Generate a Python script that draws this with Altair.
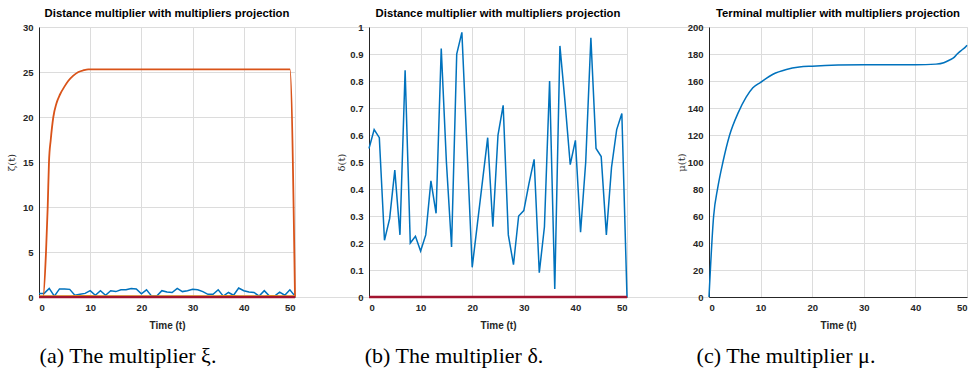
import altair as alt
import pandas as pd

# ---------------- data ----------------
t_int = list(range(51))

xi_blue = [0.4, 0.4, 0.95, 0.1, 0.9, 0.9, 0.85, 0.2, 0.3, 0.4,
           0.7, 0.2, 0.7, 0.2, 0.7, 0.6, 0.8, 0.8, 0.95, 0.9,
           0.35, 0.8, 0.1, 0.1, 0.7, 0.55, 0.5, 0.95, 0.6, 0.7,
           0.85, 0.8, 0.6, 0.3, 0.3, 0.8, 0.1, 0.5, 0.2, 1.0,
           0.7, 0.55, 0.5, 0.1, 0.7, 0.1, 0.1, 0.55, 0.2, 0.8, 0.1]
xi_yellow = [0.12, 0.12, 0.1, 0.1, 0.12, 0.12, 0.12, 0.15, 0.15, 0.15,
             0.15, 0.12, 0.1, 0.1, 0.1, 0.1, 0.1, 0.1, 0.1, 0.1,
             0.1, 0.1, 0.12, 0.12, 0.1, 0.1, 0.1, 0.1, 0.1, 0.1,
             0.1, 0.1, 0.1, 0.12, 0.12, 0.1, 0.15, 0.15, 0.15, 0.1,
             0.1, 0.1, 0.1, 0.12, 0.1, 0.15, 0.15, 0.12, 0.12, 0.1, 0.1]
zero_line = [0.0] * 51

xi_orange_t = [0, 0.8, 1.37, 1.7, 1.95, 2.3, 2.8, 3.4, 4.1, 5.0, 5.7, 6.7, 7.7, 8.7, 9.6, 20, 30, 40, 49, 50]
xi_orange_v = [0, 0, 5, 10, 15, 17.5, 20, 21.5, 22.5, 23.4, 24, 24.6, 25.0, 25.2, 25.3, 25.3, 25.3, 25.3, 25.3, 0]

delta_blue = [0.55, 0.62, 0.59, 0.21, 0.29, 0.47, 0.23, 0.84, 0.20, 0.225,
              0.17, 0.23, 0.43, 0.31, 0.92, 0.50, 0.185, 0.90, 0.98, 0.55,
              0.11, 0.27, 0.43, 0.59, 0.26, 0.60, 0.71, 0.23, 0.12, 0.30,
              0.32, 0.42, 0.51, 0.09, 0.26, 0.80, 0.03, 0.93, 0.72, 0.49,
              0.58, 0.24, 0.50, 0.96, 0.55, 0.52, 0.23, 0.48, 0.62, 0.68, 0.0]

mu_t = [0, 0.9, 1.7, 2.7, 4.0, 5.6, 7.2, 8.5, 10, 12.4, 15, 17.5, 20, 25, 30, 35, 40, 44, 45.5, 46.6, 47.5, 48.1, 49, 49.8, 50]
mu_v = [0, 60, 81, 100, 120, 136, 148, 155, 159, 165, 168.5, 170.3, 171, 171.8, 172, 172, 172, 172.5, 173.5, 175.5, 177.5, 180, 183, 185.5, 186.5]

titles = ["Distance multiplier with multipliers projection",
          "Distance multiplier with multipliers projection",
          "Terminal multiplier with multipliers projection"]
ylabels = ["ζ(t)", "δ(t)", "μ(t)"]
captions = ["(a) The multiplier ξ.", "(b) The multiplier δ.", "(c) The multiplier μ."]
x_ticks = [0, 10, 20, 30, 40, 50]

BLUE = "#0072BD"
ORANGE = "#D95319"
YELLOW = "#EDB120"
RED = "#A2142F"

FONT = "Liberation Sans"
H = 270


def xaxis():
    return alt.Axis(values=x_ticks, grid=True, gridColor="#dcdcdc", gridWidth=1,
                    domainColor="#262626", domainWidth=1, ticks=False,
                    labelFont=FONT, labelFontSize=9.5, labelFontWeight="bold",
                    labelColor="#262626", labelPadding=5,
                    title="Time (t)", titleFont=FONT, titleFontSize=10,
                    titleFontWeight="bold", titleColor="#262626",
                    titleY=28, titleBaseline="middle")


def yaxis(title, values, fmt):
    return alt.Axis(values=values, grid=True, gridColor="#dcdcdc", gridWidth=1,
                    domainColor="#262626", domainWidth=1, ticks=False, format=fmt,
                    labelFont=FONT, labelFontSize=9.5, labelFontWeight="bold",
                    labelColor="#262626", labelPadding=6,
                    title=title, titleFont="DejaVu Serif", titleFontSize=10,
                    titleFontWeight="normal", titleColor="#262626",
                    titleX=-28, titleY=H / 2, titleAngle=270,
                    titleAlign="center", titleBaseline="middle")


def panel(layers_data, title, ylabel, yvals, ydom, fmt, width, rng, tdx, caption, cap_x):
    xs = alt.Scale(domain=[0, 50], range=[0, rng], nice=False, zero=False)
    ys = alt.Scale(domain=ydom, nice=False, zero=False)
    layers = []
    for tv, vv, color, sw, interp in layers_data:
        df = pd.DataFrame({"t": tv, "v": vv})
        enc_x = alt.X("t:Q", scale=xs, axis=xaxis())
        enc_y = alt.Y("v:Q", scale=ys, axis=yaxis(ylabel, yvals, fmt))
        layers.append(alt.Chart(df).mark_line(color=color, strokeWidth=sw,
                                              interpolate=interp, clip=False)
                      .encode(x=enc_x, y=enc_y))
    cap = alt.Chart(pd.DataFrame({"c": [caption]})).mark_text(
        font="Liberation Serif", fontSize=22, color="black",
        align="center", baseline="middle").encode(
        text="c:N", x=alt.value(cap_x), y=alt.value(H + 59))
    layers.append(cap)
    return alt.layer(*layers).properties(
        width=width, height=H,
        title=alt.TitleParams(text=title, font=FONT, fontSize=11.3, fontWeight="bold",
                              color="black", anchor="middle", frame="group",
                              dx=tdx, offset=3))


p1 = panel([
    (t_int, xi_blue, BLUE, 1.5, "linear"),
    (xi_orange_t, xi_orange_v, ORANGE, 1.8, "monotone"),
    (t_int, xi_yellow, YELLOW, 1.5, "linear"),
    (t_int, zero_line, RED, 2.5, "linear"),
], titles[0], ylabels[0], list(range(0, 31, 5)), [0, 30], "d", 330, 256, -37, captions[0], 89)

p2 = panel([
    (t_int, delta_blue, BLUE, 1.5, "linear"),
    (t_int, zero_line, RED, 2.5, "linear"),
], titles[1], ylabels[1], [i / 10 for i in range(11)], [0, 1], ".1~f", 340, 258, -41, captions[1], 85)

p3 = panel([
    (mu_t, mu_v, BLUE, 1.5, "monotone"),
], titles[2], ylabels[2], list(range(0, 201, 20)), [0, 200], "d", 258, 258, 0, captions[2], 77)

chart = alt.hconcat(p1, p2, p3, spacing=0, bounds="flush").properties(
    padding={"left": 5, "top": 7, "right": 0, "bottom": 0}
).configure_view(stroke=None).configure(background="white")

chart.save("out.html", embed_options={"renderer": "svg", "actions": False})
